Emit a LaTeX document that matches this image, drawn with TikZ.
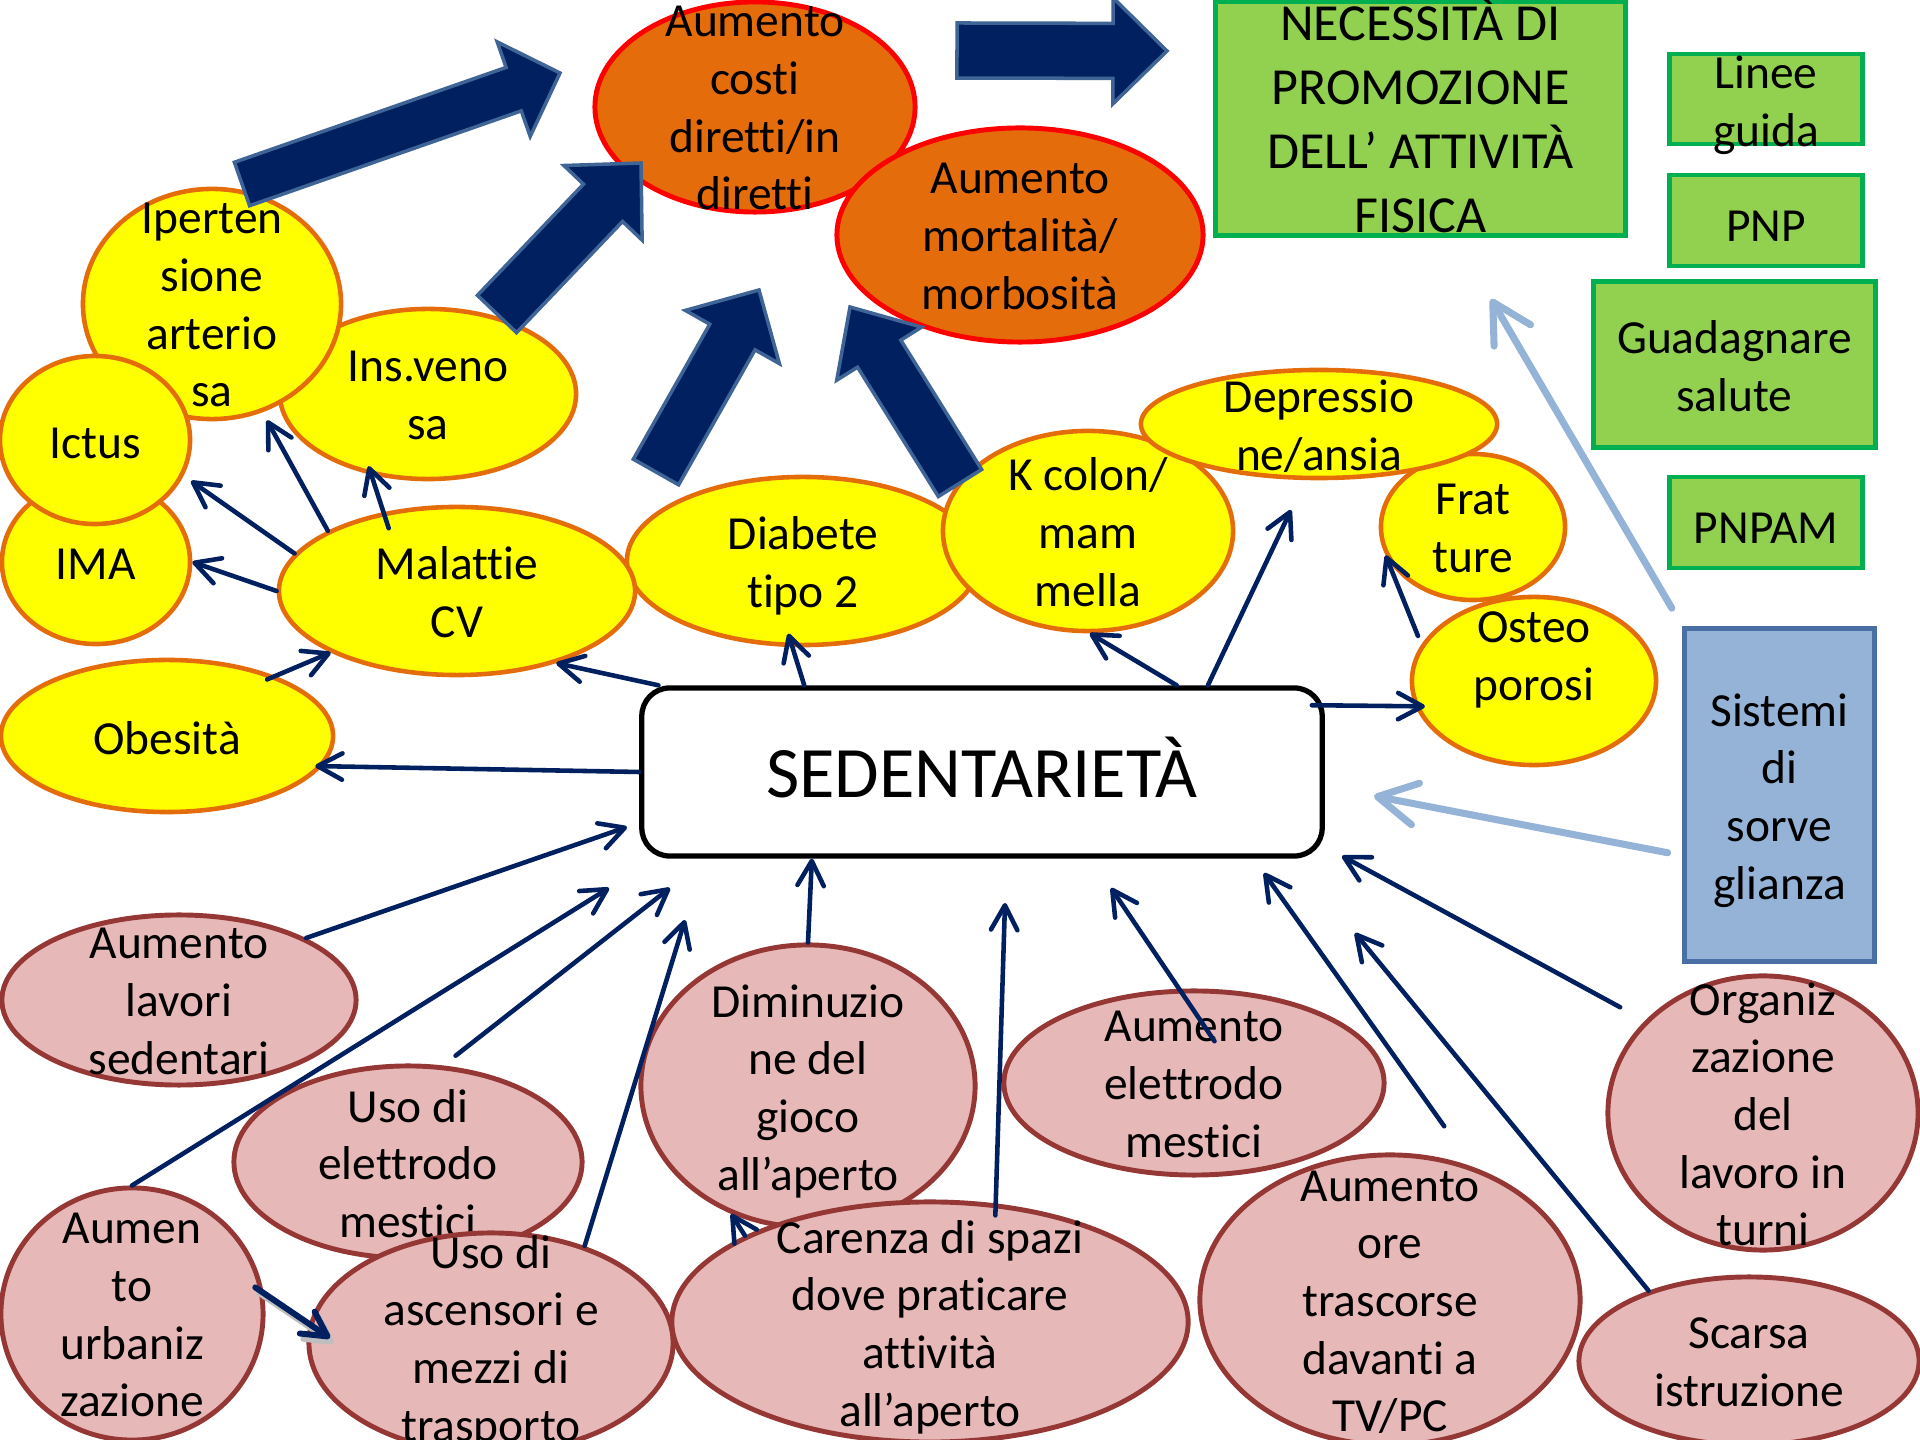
\documentclass[tikz,border=0pt]{standalone}
\usepackage{fontspec}
\setmainfont{Carlito}[Ligatures=NoCommon]
\usetikzlibrary{shapes.geometric,arrows.meta,calc}
\definecolor{navy}{HTML}{002060}
\definecolor{yelfill}{HTML}{FFFF00}
\definecolor{yelline}{HTML}{E46C0A}
\definecolor{orfill}{HTML}{E46C0A}
\definecolor{orline}{HTML}{FF0000}
\definecolor{pkfill}{HTML}{E6B9B8}
\definecolor{pkline}{HTML}{953735}
\definecolor{grfill}{HTML}{92D050}
\definecolor{grline}{HTML}{00B050}
\definecolor{bxfill}{HTML}{95B3D7}
\definecolor{bxline}{HTML}{4A6FA5}
\definecolor{baline}{HTML}{3F6496}
\definecolor{lbarrow}{HTML}{95B3D7}
\tikzset{
  yel/.style={ellipse, draw=yelline, fill=yelfill, line width=1.3pt, inner sep=0pt},
  orn/.style={ellipse, draw=orline, fill=orfill, line width=1.4pt, inner sep=0pt},
  pnk/.style={ellipse, draw=pkline, fill=pkfill, line width=1.4pt, inner sep=0pt},
  grn/.style={rectangle, draw=grline, fill=grfill, line width=1.4pt, inner sep=0pt},
  blu/.style={rectangle, draw=bxline, fill=bxfill, line width=1.4pt, inner sep=0pt},
  sedbox/.style={rectangle, rounded corners=0.28cm, draw=black, line width=1.5pt, fill=white, inner sep=0pt},
  sedtxt/.style={inner sep=0pt, font=\fontsize{20.6}{24.7}\selectfont, yshift=1.4pt},
  txt/.style={align=center, inner sep=0pt, font=\fontsize{13.5}{16.4}\selectfont, yshift=-2.8pt,
    execute at begin node=\strut, execute at end node=\strut},
  bigtxt/.style={align=center, inner sep=0pt, font=\fontsize{14.8}{18.2}\selectfont, yshift=-1.7pt,
    execute at begin node=\strut, execute at end node=\strut},
  conn/.style={draw=navy, line width=1.3pt, line cap=round,
    -{Straight Barb[length=7pt,width=7.5pt,round]}},
  thickconn/.style={draw=navy, line width=1.7pt, line cap=round,
    -{Straight Barb[length=7pt,width=7.5pt,round]}},
  lbconn/.style={draw=lbarrow, line width=2pt, line cap=round,
    -{Straight Barb[length=11pt,width=12pt,round]}},
  bigarrow/.style={fill=navy, draw=baline, line width=1pt, line join=miter},
}
% block arrow: name, tail, tip, shaft half width, head half width, head length
\newcommand\blockarrow[6]{%
  \coordinate (#1-h) at ($(#3)!#6!(#2)$);
  \path[bigarrow] ($(#2)!#4!90:(#3)$) -- ($(#1-h)!#4!90:(#3)$) -- ($(#1-h)!#5!90:(#3)$)
    -- (#3) -- ($(#1-h)!#5!-90:(#3)$) -- ($(#1-h)!#4!-90:(#3)$) -- ($(#2)!#4!-90:(#3)$) -- cycle;
}
\begin{document}
\begin{tikzpicture}[x=0.01cm, y=-0.01cm]
\useasboundingbox (0,0) rectangle (1920,1440);
\fill[white] (0,0) rectangle (1920,1440);

% ---- orange ellipses
\node[orn, minimum width=3.20cm, minimum height=2.10cm] (costi) at (755,107) {};
\node[txt] (costi-t) at (costi.center) {Aumento\\costi\\diretti/in\\diretti};
\node[orn, minimum width=3.66cm, minimum height=2.14cm] (mort) at (1020,235) {};
\node[txt] (mort-t) at (mort.center) {Aumento\\mortalità/\\morbosità};

% ---- green boxes
\node[grn, minimum width=4.09cm, minimum height=2.33cm] (necess) at (1420.5,118.5) {};
\node[bigtxt] (necess-t) at (necess.center) {NECESSITÀ DI\\PROMOZIONE\\DELL’ ATTIVITÀ\\FISICA};
\node[grn, minimum width=1.92cm, minimum height=0.90cm] (linee) at (1766,99) {};
\node[txt] (linee-t) at (1766,100) {Linee\\guida};
\node[grn, minimum width=1.92cm, minimum height=0.91cm] (pnp) at (1766,220.5) {};
\node[txt] (pnp-t) at (pnp.center) {PNP};
\node[grn, minimum width=2.81cm, minimum height=1.65cm] (guad) at (1734.5,364.5) {};
\node[txt] (guad-t) at (guad.center) {Guadagnare\\salute};
\node[grn, minimum width=1.92cm, minimum height=0.91cm] (pnpam) at (1766,522.5) {};
\node[txt] (pnpam-t) at (pnpam.center) {PNPAM};
\node[blu, minimum width=1.89cm, minimum height=3.32cm] (sist) at (1779.5,795) {};
\node[txt] (sist-t) at (sist.center) {Sistemi\\di\\sorve\\glianza};

% ---- yellow ellipses
\node[yel, minimum width=2.96cm, minimum height=1.70cm] (insv) at (428,394) {};
\node[txt] (insv-t) at (insv.center) {Ins.veno\\sa};
\node[yel, minimum width=2.58cm, minimum height=2.30cm] (ipert) at (212,304) {};
\node[txt] (ipert-t) at (ipert.center) {Iperten\\sione\\arterio\\sa};
\node[yel, minimum width=1.88cm, minimum height=1.64cm] (ima) at (96,562) {};
\node[txt] (ima-t) at (96,558) {IMA};
\node[yel, minimum width=1.90cm, minimum height=1.68cm] (ictus) at (95,440) {};
\node[txt] (ictus-t) at (95,437) {Ictus};
\node[yel, minimum width=3.52cm, minimum height=1.68cm] (diab) at (803,561) {};
\node[txt] (diab-t) at (diab.center) {Diabete\\tipo 2};
\node[yel, minimum width=3.56cm, minimum height=1.68cm] (mal) at (457,591) {};
\node[txt] (mal-t) at (mal.center) {Malattie\\CV};
\node[yel, minimum width=3.32cm, minimum height=1.52cm] (obes) at (167,736) {};
\node[txt] (obes-t) at (167,733) {Obesità};
\node[yel, minimum width=2.90cm, minimum height=2.00cm] (kcol) at (1088,531) {};
\node[txt] (kcol-t) at (kcol.center) {K colon/\\mam\\mella};
\node[yel, minimum width=1.84cm, minimum height=1.46cm] (frat) at (1473,527) {};
\node[txt] (frat-t) at (frat.center) {Frat\\ture};
\node[yel, minimum width=3.56cm, minimum height=1.08cm] (depr) at (1319,424) {};
\node[txt] (depr-t) at (depr.center) {Depressio\\ne/ansia};
\node[yel, minimum width=2.44cm, minimum height=1.68cm] (osteo) at (1534,681) {};
\node[txt] (osteo-t) at (1534,655) {Osteo\\porosi};

% ---- pink ellipses
\node[pnk, minimum width=3.54cm, minimum height=1.70cm] (lav) at (179,1000) {};
\node[txt] (lav-t) at (lav.center) {Aumento\\lavori\\sedentari};
\node[pnk, minimum width=3.48cm, minimum height=1.92cm] (usoel) at (408,1162) {};
\node[txt] (usoel-t) at (usoel.center) {Uso di\\elettrodo\\mestici};
\node[pnk, minimum width=2.62cm, minimum height=2.52cm] (urb) at (132,1314) {};
\node[txt] (urb-t) at (urb.center) {Aumen\\to\\urbaniz\\zazione};
\node[pnk, minimum width=3.64cm, minimum height=2.20cm] (asc) at (491,1343) {};
\node[txt] (asc-t) at (491,1337) {Uso di\\ascensori e\\mezzi di\\trasporto};
\node[pnk, minimum width=3.34cm, minimum height=2.82cm] (dimin) at (808,1086) {};
\node[txt] (dimin-t) at (dimin.center) {Diminuzio\\ne del\\gioco\\all’aperto};
\node[pnk, minimum width=5.16cm, minimum height=2.40cm] (caren) at (930,1322) {};
\node[txt] (caren-t) at (caren.center) {Carenza di spazi\\dove praticare\\attività\\all’aperto};
\node[pnk, minimum width=3.80cm, minimum height=1.84cm] (aumel) at (1194,1083) {};
\node[txt] (aumel-t) at (aumel.center) {Aumento\\elettrodo\\mestici};
\node[pnk, minimum width=3.80cm, minimum height=2.90cm] (ore) at (1390,1300) {};
\node[txt] (ore-t) at (ore.center) {Aumento\\ore\\trascorse\\davanti a\\TV/PC};
\node[pnk, minimum width=3.10cm, minimum height=2.74cm] (org) at (1763,1113) {};
\node[txt] (org-t) at (org.center) {Organiz\\zazione\\del\\lavoro in\\turni};
\node[pnk, minimum width=3.40cm, minimum height=1.68cm] (scar) at (1749,1361) {};
\node[txt] (scar-t) at (scar.center) {Scarsa\\istruzione};

% ---- central box
\node[sedbox, minimum width=6.80cm, minimum height=1.68cm] (sed) at (982,772) {};
\node[sedtxt] (sed-t) at (982,772) {SEDENTARIETÀ};

% ---- big block arrows
\coordinate (ba1s) at (242,184);  \coordinate (ba1e) at (560,73);
\coordinate (ba2s) at (497,314);  \coordinate (ba2e) at (641,163);
\coordinate (ba3s) at (656,472);  \coordinate (ba3e) at (759,290);
\coordinate (ba4s) at (960,483);  \coordinate (ba4e) at (850,307);
\coordinate (ba5s) at (957,50.5); \coordinate (ba5e) at (1167,51);
\blockarrow{ba1}{ba1s}{ba1e}{0.23cm}{0.50cm}{0.49cm}
\blockarrow{ba2}{ba2s}{ba2e}{0.27cm}{0.54cm}{0.55cm}
\blockarrow{ba3}{ba3s}{ba3e}{0.26cm}{0.54cm}{0.54cm}
\blockarrow{ba4}{ba4s}{ba4e}{0.255cm}{0.50cm}{0.55cm}
\blockarrow{ba5}{ba5s}{ba5e}{0.275cm}{0.53cm}{0.54cm}

% ---- free arrow ends
\coordinate (depr-in) at (1291,510);
\coordinate (sed-in-lav) at (627,827);
\coordinate (sed-in-urb) at (609,888);
\coordinate (sed-in-usoel) at (670,888);
\coordinate (sed-in-asc) at (685,920);
\coordinate (sed-in-caren) at (1005,903);
\coordinate (sed-in-aumel) at (1111,888);
\coordinate (sed-in-ore) at (1264,873);
\coordinate (sed-in-scar) at (1355,933);
\coordinate (sed-in-org) at (1342,856);
\coordinate (nec-in) at (1491,299);
\coordinate (sed-in-sist) at (1374,796);

% ---- thin connectors (upper)
\draw[conn, shorten >=2.6pt] (mal.167) -- (ictus.-22);
\draw[conn] (mal.180) -- (ima.0);
\draw[conn, shorten >=2.6pt] (mal.155) -- (ipert.-65);
\draw[conn, shorten <=-4.8pt, shorten >=-2.6pt] (mal.133) -- (insv.-125);
\draw[conn, shorten <=-2.5pt] (obes.29) -- (mal.206);
\draw[conn] (sed.165) -- (mal.-36);
\draw[conn, shorten >=-2pt] (sed.180) -- (obes.-11);
\draw[conn, shorten >=-4pt] (sed.154) -- (diab.-97);
\draw[conn] (sed.24) -- (kcol.-89);
\draw[conn] (sed.21) -- (depr-in);
\draw[conn, shorten <=-3.7pt, shorten >=-2.8pt] (sed.11) -- (osteo.-168);
\draw[conn, shorten <=2.6pt] (osteo.162) -- (frat.-162);

% ---- thin connectors (lower)
\draw[conn] (lav.26) -- (sed-in-lav);
\draw[conn] (urb.90) -- (sed-in-urb);
\draw[conn, shorten <=4.5pt] (usoel.70) -- (sed-in-usoel);
\draw[conn] (asc.46) -- (sed-in-asc);
\draw[conn] (dimin.90) -- (sed.-153);
\draw[conn, shorten <=-3.4pt] (caren.61) -- (sed-in-caren);
\draw[conn, shorten <=-18pt] (aumel.99) -- (sed-in-aumel);
\draw[conn, shorten <=14.2pt] (ore.58) -- (sed-in-ore);
\draw[conn] (scar.145) -- (sed-in-scar);
\draw[conn, shorten <=8pt] (org.142) -- (sed-in-org);
\draw[conn] (caren.155) -- (dimin.-121);
\draw[thickconn, draw=black!25, shorten <=-2.9pt, shorten >=-7.2pt, transform canvas={xshift=1pt, yshift=-1.5pt}] (urb.9) -- (asc.174);
\draw[thickconn, shorten <=-2.9pt, shorten >=-7.2pt] (urb.9) -- (asc.174);

% ---- light blue connectors
\draw[lbconn, shorten <=6pt] (sist.north west) -- (nec-in);
\draw[lbconn, shorten <=4.3pt] (sist.-148) -- (sed-in-sist);
\end{tikzpicture}
\end{document}
